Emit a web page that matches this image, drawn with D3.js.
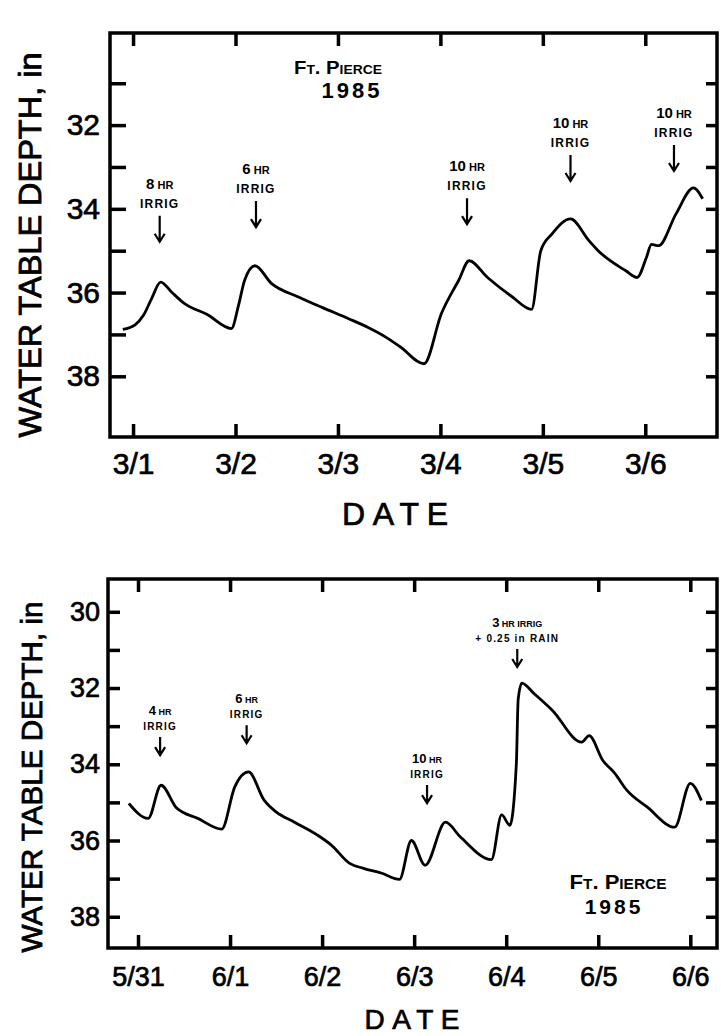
<!DOCTYPE html>
<head>
<style>
  body { margin: 0; background: #fff; }
  text { font-family: "Liberation Sans", Arial, sans-serif; fill: #000; }
</style>
</head>
<body>
<svg width="721" height="1036"></svg>
<script src="https://d3js.org/d3.v7.min.js"></script>
<script>

// ---- top panel: March 1985 (days counted from 3/1) ----
var marDays  = [-0.10, 0.02, 0.10, 0.18, 0.27, 0.38, 0.50, 0.72, 0.96, 1.03, 1.09, 1.19, 1.35, 1.62, 1.85, 2.11, 2.29, 2.47, 2.61, 2.84,
                3.01, 3.18, 3.28, 3.46, 3.70, 3.89, 3.98, 4.09, 4.27, 4.45, 4.54, 4.81, 4.92, 5.01, 5.06, 5.13, 5.30, 5.47, 5.56];
var marDepth = [36.88, 36.77, 36.55, 36.15, 35.75, 36.00, 36.26, 36.52, 36.86, 36.30, 35.70, 35.36, 35.78, 36.11, 36.36, 36.63, 36.83, 37.07, 37.30, 37.70,
                36.50, 35.70, 35.24, 35.64, 36.10, 36.40, 35.00, 34.60, 34.24, 34.76, 35.00, 35.48, 35.64, 35.17, 34.85, 34.88, 34.12, 33.50, 33.76];
var marDates = ["3/1", "3/2", "3/3", "3/4", "3/5", "3/6"];
var marTicks = [31, 32, 33, 34, 35, 36, 37, 38];
var marNoteDay   = [0.26, 1.20, 3.26, 4.27, 5.28];
var marNoteDepth = [33.52, 33.17, 33.10, 32.07, 31.83];
var marNoteTop   = ["8 HR", "6 HR", "10 HR", "10 HR", "10 HR"];
var marNoteBot   = ["IRRIG", "IRRIG", "IRRIG", "IRRIG", "IRRIG"];

// ---- bottom panel: June 1985 (days counted from 5/31) ----
var junDays  = [-0.10, 0.11, 0.25, 0.42, 0.65, 0.91, 1.05, 1.20, 1.37, 1.50, 1.70, 1.95, 2.10, 2.30, 2.45, 2.65, 2.84, 2.97, 3.12, 3.34,
                3.50, 3.84, 3.95, 4.04, 4.11, 4.13, 4.17, 4.30, 4.50, 4.82, 4.90, 5.05, 5.18, 5.31, 5.53, 5.83, 6.00, 6.12];
var junDepth = [35.03, 35.42, 34.55, 35.15, 35.42, 35.70, 34.60, 34.20, 34.94, 35.25, 35.52, 35.86, 36.12, 36.60, 36.73, 36.86, 37.02, 36.00, 36.65, 35.52,
                35.90, 36.50, 35.33, 35.60, 34.00, 32.30, 31.87, 32.14, 32.58, 33.42, 33.25, 33.90, 34.24, 34.68, 35.12, 35.65, 34.50, 34.95];
var junDates = ["5/31", "6/1", "6/2", "6/3", "6/4", "6/5", "6/6"];
var junTicks = [30, 31, 32, 33, 34, 35, 36, 37, 38];
var junNoteDay   = [0.24, 1.18, 3.14, 4.12];
var junNoteDepth = [32.71, 32.40, 33.97, 30.40];
var junNoteTop   = ["4 HR", "6 HR", "10 HR", "3 HR IRRIG"];
var junNoteBot   = ["IRRIG", "IRRIG", "IRRIG", "+ 0.25 in RAIN"];

var svg = d3.select("svg");

function panel(c) {
  var g = svg.append("g");
  var x = d3.scaleLinear().domain(c.xDom).range([c.left, c.right]);
  var y = d3.scaleLinear().domain(c.yDom).range([c.top, c.bottom]);
  var pts = c.days.map(function(d, i) { return [d, c.depth[i]]; });
  var dayIdx = c.dates.map(function(d, i) { return i; });

  g.append("rect")
    .attr("x", c.left).attr("y", c.top)
    .attr("width", c.right - c.left).attr("height", c.bottom - c.top)
    .attr("fill", "none").attr("stroke", "#000").attr("stroke-width", 3.5);

  g.append("path")
    .datum(pts)
    .attr("fill", "none")
    .attr("stroke", "#000")
    .attr("stroke-width", 2.8)
    .attr("stroke-linejoin", "round")
    .attr("d", d3.line().curve(d3.curveMonotoneX)
      .x(function(d) { return x(d[0]); }).y(function(d) { return y(d[1]); }));

  var aL = g.append("g").attr("transform", "translate(" + c.left + ",0)")
    .call(d3.axisLeft(y).tickValues(c.yTicks).tickSize(-c.tickL).tickPadding(c.left - 100)
      .tickFormat(function(d) { return d % 2 === 0 ? d : ""; }));
  var aR = g.append("g").attr("transform", "translate(" + c.right + ",0)")
    .call(d3.axisRight(y).tickValues(c.yTicks).tickSize(-11).tickFormat(""));
  var aT = g.append("g").attr("transform", "translate(0," + c.top + ")")
    .call(d3.axisTop(x).tickValues(dayIdx).tickSize(-13).tickFormat(""));
  var aB = g.append("g").attr("transform", "translate(0," + c.bottom + ")")
    .call(d3.axisBottom(x).tickValues(dayIdx).tickSize(-13).tickPadding(c.xPad)
      .tickFormat(function(d) { return c.dates[d]; }));

  // inward tick marks drawn as small bars inside each axis tick group
  var marks = [[aL, c.tickL, true], [aR, -11, true], [aT, 13, false], [aB, -13, false]];
  marks.forEach(function(m, i) {
    var a = m[0], len = m[1], horiz = m[2];
    a.select(".domain").remove();
    a.selectAll(".tick line").remove();
    a.selectAll(".tick").append("rect")
      .attr("x", horiz ? Math.min(0, len) : -1.75)
      .attr("y", horiz ? -1.75 : Math.min(0, len))
      .attr("width", horiz ? Math.abs(len) : 3.5)
      .attr("height", horiz ? 3.5 : Math.abs(len))
      .attr("fill", "#000");
    a.selectAll(".tick text").attr("font-size", i === 0 ? c.yFs : c.xFs)
      .attr("stroke", "#000").attr("stroke-width", 0.7);
  });

  // irrigation notes with arrows
  c.noteDay.forEach(function(d, i) {
    var nx = x(d), ny = y(c.noteDepth[i]);
    var t = g.append("text").attr("x", nx).attr("y", ny).attr("text-anchor", "middle")
      .attr("font-weight", "bold");
    c.noteTop[i].split(" ").forEach(function(w, k) {
      var big = /^[0-9]/.test(w);
      t.append("tspan").attr("font-size", big ? c.noteFs + 3 : c.noteFs - 1)
        .text((k ? " " : "") + w);
    });
    g.append("text").attr("x", nx).attr("y", ny + c.lineGap).attr("text-anchor", "middle")
      .attr("font-weight", "bold").attr("font-size", c.noteFs).attr("letter-spacing", 1.2)
      .text(c.noteBot[i]);
    var a0 = ny + c.lineGap + c.arrow[0], a1 = ny + c.lineGap + c.arrow[1];
    g.append("path")
      .attr("d", "M" + nx + "," + a0 + "V" + a1 + "M" + (nx - 5) + "," + (a1 - 8) + "L" + nx + "," + a1 + "L" + (nx + 5) + "," + (a1 - 8))
      .attr("fill", "none").attr("stroke", "#000").attr("stroke-width", 2.2);
  });

  // y title
  g.append("text")
    .attr("transform", "translate(" + c.titleX + "," + c.titleY + ") rotate(-90)")
    .attr("text-anchor", "middle")
    .attr("font-size", c.titleFs)
    .attr("stroke", "#000").attr("stroke-width", 0.8)
    .attr("textLength", c.titleLen).attr("lengthAdjust", "spacingAndGlyphs")
    .text("WATER TABLE DEPTH, in");

  g.append("text")
    .attr("x", c.dateX).attr("y", c.dateY)
    .attr("text-anchor", "middle")
    .attr("font-size", c.dateFs)
    .attr("stroke", "#000").attr("stroke-width", 0.7)
    .attr("textLength", c.dateLen).attr("lengthAdjust", "spacing")
    .text("DATE");

  g.append("text")
    .attr("x", c.siteX).attr("y", c.siteY)
    .attr("text-anchor", "middle").attr("font-weight", "bold")
    .attr("font-size", c.siteFs).attr("font-variant", "small-caps")
    .attr("textLength", c.siteLen).attr("lengthAdjust", "spacingAndGlyphs")
    .text("Ft. Pierce");
  g.append("text")
    .attr("x", c.yearX).attr("y", c.siteY + c.yearGap)
    .attr("text-anchor", "middle").attr("font-weight", "bold")
    .attr("font-size", c.yearFs).attr("letter-spacing", 3)
    .text("1985");
}

panel({
  days: marDays, depth: marDepth, dates: marDates, yTicks: marTicks,
  noteDay: marNoteDay, noteDepth: marNoteDepth, noteTop: marNoteTop, noteBot: marNoteBot,
  xDom: [-0.225, 5.70], yDom: [29.8, 39.45],
  left: 110, right: 717, top: 33, bottom: 437,
  tickL: 16, xPad: 16, xFs: 30, yFs: 30,
  noteFs: 12, lineGap: 19, arrow: [8, 34],
  titleX: 41, titleY: 245, titleFs: 31, titleLen: 385,
  dateX: 395, dateY: 525, dateFs: 32, dateLen: 106,
  siteX: 338, siteY: 74, siteFs: 19, siteLen: 88, yearX: 352, yearGap: 24, yearFs: 22
});

panel({
  days: junDays, depth: junDepth, dates: junDates, yTicks: junTicks,
  noteDay: junNoteDay, noteDepth: junNoteDepth, noteTop: junNoteTop, noteBot: junNoteBot,
  xDom: [-0.326, 6.29], yDom: [29.14, 38.82],
  left: 108, right: 717, top: 579, bottom: 948,
  tickL: 12, xPad: 19, xFs: 27, yFs: 27,
  noteFs: 10, lineGap: 15, arrow: [7, 25],
  titleX: 42, titleY: 777, titleFs: 29, titleLen: 351,
  dateX: 412, dateY: 1029, dateFs: 28, dateLen: 95,
  siteX: 618, siteY: 889, siteFs: 20, siteLen: 97, yearX: 614, yearGap: 25, yearFs: 21
});

</script>
</body>
